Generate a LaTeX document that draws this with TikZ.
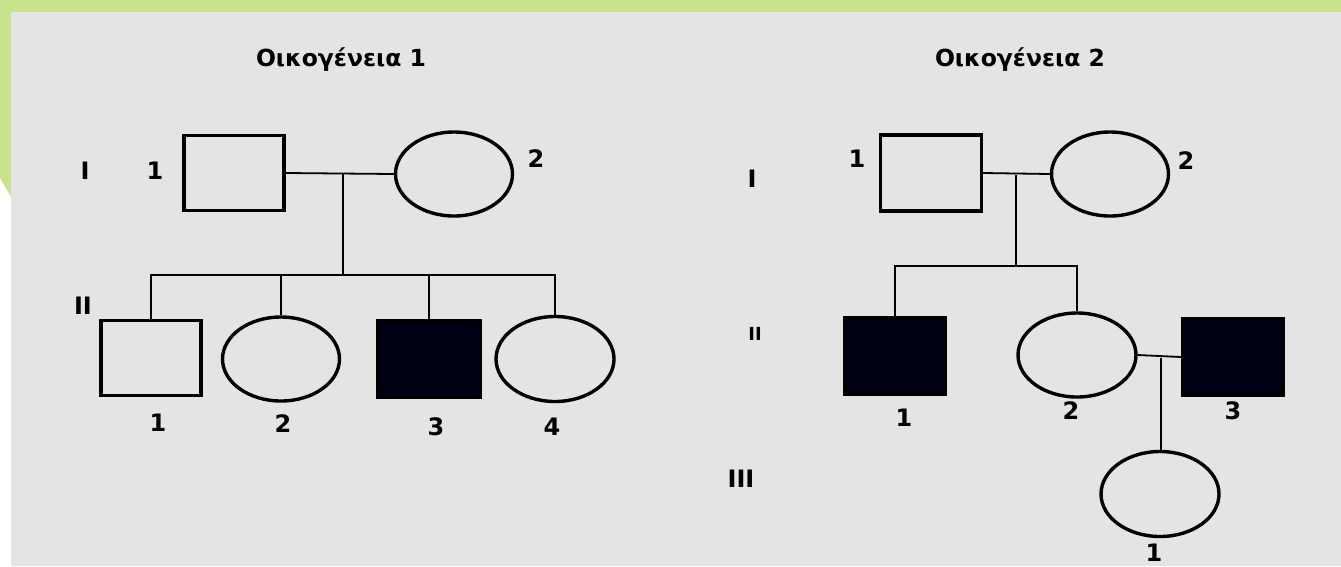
\documentclass[tikz,border=0pt]{standalone}
\usepackage{fontspec}
\setmainfont{DejaVu Sans}
\usetikzlibrary{shapes.geometric}

\definecolor{framegreen}{RGB}{200,227,142}
\definecolor{panelgrey}{RGB}{228,228,228}
\definecolor{affected}{RGB}{0,0,20}

\tikzset{
  male/.style={draw=black, line width=3.4pt, rectangle, inner sep=0pt,
               minimum width=100pt, minimum height=75pt},
  female/.style={draw=black, line width=3.4pt, ellipse, inner sep=0pt,
                 minimum width=117pt, minimum height=84pt},
  affect/.style={fill=affected},
  link/.style={line width=1.8pt, black},
  num/.style={inner sep=0pt, font=\fontsize{24}{28}\selectfont\bfseries},
  gen/.style={inner sep=0pt, font=\fontsize{24}{28}\selectfont\bfseries},
  gensmall/.style={inner sep=0pt, font=\fontsize{18}{21}\selectfont\bfseries},
  ttl/.style={inner sep=0pt, anchor=base, font=\fontsize{23.5}{27}\selectfont\bfseries},
}

\begin{document}
\begin{tikzpicture}[x=1pt, y=-1pt]
  % page, green frame and grey panel
  \useasboundingbox (0,0) rectangle (1341,566);
  \fill[white] (0,0) rectangle (1341,566);
  \fill[framegreen] (0,0) -- (1341,0) -- (1341,12) -- (11,12) -- (11,197) -- (0,178) -- cycle;
  \fill[panelgrey] (11,12) rectangle (1341,566);

  % ---------- Family 1 ----------
  \node[ttl] (t1) at (341,66) {Οικογένεια 1};

  \node[male]   (f1a) at (234,173) {};
  \node[female] (f1b) at (454,174) {};

  \node[male]          (f1c1) at (151,358) {};
  \node[female]        (f1c2) at (281,359) {};
  \node[male, affect, minimum width=103pt, minimum height=77pt] (f1c3) at (429,359) {};
  \node[female, minimum width=118pt, minimum height=85pt] (f1c4) at (555,359) {};

  \coordinate (f1m) at (343,174);
  \coordinate (f1s) at (343,275);

  \draw[link] (f1a.east) -- (f1b.west);
  \draw[link] (f1m) -- (f1s);
  \draw[link] (f1c1.north) |- (f1s) -| (f1c4.north);
  \draw[link] (f1c2.north) -- (f1c2.north |- f1s);
  \draw[link] (f1c3.north) -- (f1c3.north |- f1s);

  \node[gen] (g1i)  at (85,171)  {I};
  \node[gen] (g1ii) at (83,306)  {II};
  \node[num] (n1a)  at (155,171) {1};
  \node[num] (n1b)  at (536,159) {2};
  \node[num] (n1c1) at (158,423) {1};
  \node[num] (n1c2) at (283,424) {2};
  \node[num] (n1c3) at (436,427) {3};
  \node[num] (n1c4) at (552,427) {4};

  % ---------- Family 2 ----------
  \node[ttl] (t2) at (1020,66) {Οικογένεια 2};

  \node[male, minimum width=101pt, minimum height=76pt] (f2a) at (931,173) {};
  \node[female] (f2b) at (1110,174) {};

  \node[male, affect, minimum width=101pt, minimum height=76pt] (f2c1) at (895,356) {};
  \node[female, minimum width=118pt] (f2c2) at (1077,355) {};
  \node[male, affect, minimum width=101pt, minimum height=76pt] (f2d) at (1233,357) {};

  \node[female, minimum width=118pt, minimum height=85pt] (f2g) at (1160,494) {};

  \coordinate (f2m) at (1016,175);
  \coordinate (f2s) at (1016,266);
  \coordinate (f2k) at (1161,358);

  \draw[link] (f2a.east) -- (f2b.west);
  \draw[link] (f2m) -- (f2s);
  \draw[link] (f2c1.north) |- (f2s) -| (f2c2.north);
  \draw[link] (f2c2.east) -- (f2d.west);
  \draw[link] (f2k) -- (f2k |- f2g.north);

  \node[gen]      (g2i)   at (752,179) {I};
  \node[gensmall] (g2ii)  at (755,334) {II};
  \node[gen]      (g2iii) at (741,479) {III};
  \node[num] (n2a)  at (857,159)  {1};
  \node[num] (n2b)  at (1186,161) {2};
  \node[num] (n2c1) at (904,418)  {1};
  \node[num] (n2c2) at (1071,411) {2};
  \node[num] (n2d)  at (1233,411) {3};
  \node[num] (n2g)  at (1154,553) {1};
\end{tikzpicture}
\end{document}
